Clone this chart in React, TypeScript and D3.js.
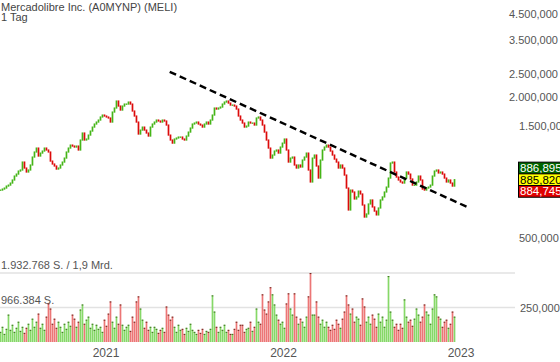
import React from 'react';
import * as d3 from 'd3';

const W = 560;
const H = 362;
const TITLE = 'Mercadolibre Inc. (A0MYNP) (MELI)';
const SUBTITLE = '1 Tag';

// sampling of the daily series (start date and spacing between samples)
const START_DATE = new Date(2020, 4, 29);
const STEP_DAYS = 4.113;

// closing prices (USD)
const closes = [
  800, 808, 816, 832, 840, 857, 883, 918, 936, 964,
  974, 1053, 993, 955, 974, 1023, 1106, 1162, 1208, 1117,
  1150, 1173, 1208, 1185, 1162, 1063, 1033, 1013, 983, 993,
  1023, 1053, 1095, 1162, 1208, 1244, 1232, 1220, 1232, 1185,
  1307, 1400, 1307, 1320, 1372, 1427, 1484, 1529, 1559, 1590,
  1638, 1670, 1654, 1638, 1622, 1559, 1720, 1789, 1916, 1824,
  1754, 1824, 1860, 1860, 1897, 1860, 1737, 1654, 1559, 1386,
  1441, 1484, 1441, 1400, 1359, 1484, 1529, 1559, 1590, 1575,
  1559, 1590, 1575, 1514, 1372, 1307, 1268, 1320, 1333, 1346,
  1346, 1320, 1307, 1359, 1413, 1470, 1529, 1544, 1559, 1529,
  1514, 1484, 1529, 1559, 1529, 1590, 1670, 1789, 1771, 1789,
  1806, 1860, 1897, 1916, 1878, 1842, 1842, 1824, 1771, 1654,
  1590, 1544, 1484, 1499, 1559, 1544, 1544, 1514, 1622, 1638,
  1590, 1514, 1413, 1307, 1208, 1095, 1128, 1173, 1185, 1150,
  1220, 1268, 1320, 1185, 1053, 1095, 1106, 1023, 993, 1023,
  1003, 1074, 1106, 1150, 974, 866, 1095, 1128, 1013, 900,
  1074, 1185, 1220, 1244, 1220, 1173, 1128, 1084, 1053, 993,
  1023, 993, 927, 816, 658, 800, 785, 733, 748, 792,
  770, 691, 614, 633, 698, 726, 678, 651, 627, 671,
  726, 748, 785, 824, 900, 1043, 1053, 955, 909, 883,
  866, 857, 900, 955, 936, 892, 840, 840, 866, 918,
  883, 808, 800, 816, 824, 840, 918, 964, 974, 946,
  955, 936, 900, 866, 883, 857, 832, 885.82,
];

// volumes (thousand shares)
const volumes = [
  284, 426, 227, 369, 767, 341, 483, 284, 398, 568,
  312, 426, 256, 398, 511, 341, 653, 426, 568, 795,
  398, 511, 341, 710, 1079, 937, 511, 653, 398, 568,
  426, 284, 511, 369, 568, 454, 767, 653, 426, 568,
  909, 1051, 511, 625, 710, 398, 511, 341, 483, 369,
  426, 284, 625, 454, 795, 1136, 568, 398, 710, 511,
  1051, 483, 341, 426, 483, 312, 710, 568, 1136, 1278,
  937, 625, 398, 568, 341, 426, 284, 426, 369, 256,
  341, 398, 284, 994, 767, 625, 710, 426, 284, 483,
  341, 369, 227, 398, 312, 511, 341, 284, 227, 341,
  256, 369, 227, 312, 284, 369, 1306, 852, 426, 284,
  426, 341, 483, 284, 341, 227, 227, 369, 568, 341,
  483, 483, 284, 369, 398, 568, 312, 426, 937, 568,
  511, 1335, 909, 795, 1136, 1534, 1335, 1051, 767, 625,
  511, 568, 398, 1079, 1363, 937, 767, 1363, 710, 511,
  653, 568, 426, 710, 1278, 1931, 767, 767, 1136, 710,
  511, 625, 426, 568, 426, 341, 483, 369, 625, 511,
  398, 653, 852, 1306, 1051, 795, 937, 568, 710, 653,
  483, 1221, 994, 568, 710, 511, 767, 653, 426, 795,
  568, 710, 426, 625, 1846, 852, 625, 426, 511, 341,
  511, 398, 1193, 710, 568, 625, 454, 653, 937, 767,
  568, 710, 1051, 852, 767, 511, 937, 1335, 1278, 710,
  653, 426, 568, 625, 398, 511, 852, 710,
];

const priceTicks = [4500, 3500, 2500, 2000, 1500, 500];
const priceTickLabels = ['4.500,000', '3.500,000', '2.500,000', '2.000,000', '1.500,000', '500,000'];

const quoteValues = [886.895, 885.82, 884.745];
const quoteLabels = ['886,895', '885,820', '884,745'];
const quoteFills = ['#006400', '#ffff00', '#e00000'];
const quoteText = ['#ffffff', '#000000', '#ffffff'];

const trendDates = [new Date(2021, 4, 12), new Date(2023, 0, 15)];
const trendPrices = [2553, 676];

const volGridValues = [1932.768, 966.384];
const volGridLabels = ['1.932.768 S. / 1,9 Mrd.', '966.384 S.'];
const volAxisLabel = '250,000';

const yearTicks = [new Date(2021, 0, 1), new Date(2022, 0, 1), new Date(2023, 0, 1)];

const FONT = '"Liberation Sans", Arial, sans-serif';

export default function App() {
  const x = d3.scaleTime().domain([new Date(2021, 0, 1), new Date(2023, 0, 1)]).range([106, 461]);
  const y = d3.scaleLog().domain([500, 4500]).range([238, 14]);
  const v = d3.scaleLinear().domain([0, 1932.768]).range([342, 273]);

  const n = Math.min(closes.length, volumes.length);
  const bars = d3.range(n).map((i) => {
    const date = d3.timeHour.offset(START_DATE, Math.round(i * STEP_DAYS * 24));
    const open = i === 0 ? closes[0] : closes[i - 1];
    const close = closes[i];
    return { date, open, close, vol: volumes[i], up: close >= open };
  });

  const bw = 1.7;
  const plotRight = 515;
  const trendLine = d3.line<[Date, number]>().x((d) => x(d[0])).y((d) => y(d[1]));
  const trendPts: [Date, number][] = trendDates.map((d, i) => [d, trendPrices[i]]);

  const yq = y(quoteValues[1]);
  const bh = 11.7;

  return (
    <svg width={W} height={H} style={{ position: 'absolute', left: 0, top: 0, background: '#fff' }} fontFamily={FONT}>
      <rect x={0} y={0} width={W} height={H} fill="#fff" />
      {/* volume grid */}
      {volGridValues.map((gv, i) => (
        <g key={'vg' + i}>
          <line x1={0} x2={plotRight} y1={v(gv)} y2={v(gv)} stroke="#e2e2e2" strokeWidth={1.5} />
          <text x={1} y={v(gv) - 4} fontSize={11} fill="#555">{volGridLabels[i]}</text>
        </g>
      ))}
      <text x={520} y={v(volGridValues[1]) + 4} fontSize={11} fill="#555">{volAxisLabel}</text>

      {/* volume bars */}
      {bars.map((b, i) => {
        const xc = x(b.date);
        const top = v(b.vol);
        return (
          <g key={'v' + i}>
            <rect x={xc - bw / 2} y={top} width={bw} height={v(0) - top} fill={b.up ? '#86d868' : '#ec7676'} />
            <rect x={xc - bw / 2} y={top} width={bw} height={1} fill={b.up ? '#3f6e22' : '#6a2a20'} />
          </g>
        );
      })}

      {/* price bars */}
      {bars.map((b, i) => {
        const xc = x(b.date);
        const y1 = y(Math.max(b.open, b.close));
        const y2 = y(Math.min(b.open, b.close));
        return (
          <rect key={'p' + i} x={xc - bw / 2} y={y1 - 0.6} width={bw} height={Math.max(1.4, y2 - y1 + 1.2)}
            fill={b.up ? '#45b518' : '#dc0a0a'} />
        );
      })}

      {/* trend line */}
      <path d={trendLine(trendPts) || ''} fill="none" stroke="#000" strokeWidth={2.4} strokeDasharray="7,4" />

      {/* price axis labels */}
      {priceTicks.map((t, i) => (
        <text key={'pt' + i} x={t >= 2000 ? 509 : 519} y={y(t) + 4} fontSize={11} fill="#555">{priceTickLabels[i]}</text>
      ))}

      {/* quote boxes */}
      {quoteValues.map((q, i) => {
        const top = yq - bh / 2 + (i - 1) * bh;
        return (
          <g key={'q' + i}>
            <rect x={518.5} y={top} width={50} height={bh} fill={quoteFills[i]} stroke="#000" strokeWidth={1} />
            <text x={520} y={top + bh - 2} fontSize={11.5} fill={quoteText[i]}>{quoteLabels[i]}</text>
          </g>
        );
      })}

      {/* year labels */}
      {yearTicks.map((d, i) => (
        <text key={'yt' + i} x={x(d)} y={357} fontSize={12} fill="#555" textAnchor="middle">{d3.timeFormat('%Y')(d)}</text>
      ))}

      {/* title */}
      <text x={1} y={10.5} fontSize={11} fill="#444">{TITLE}</text>
      <text x={1} y={21} fontSize={11} fill="#444">{SUBTITLE}</text>
    </svg>
  );
}
